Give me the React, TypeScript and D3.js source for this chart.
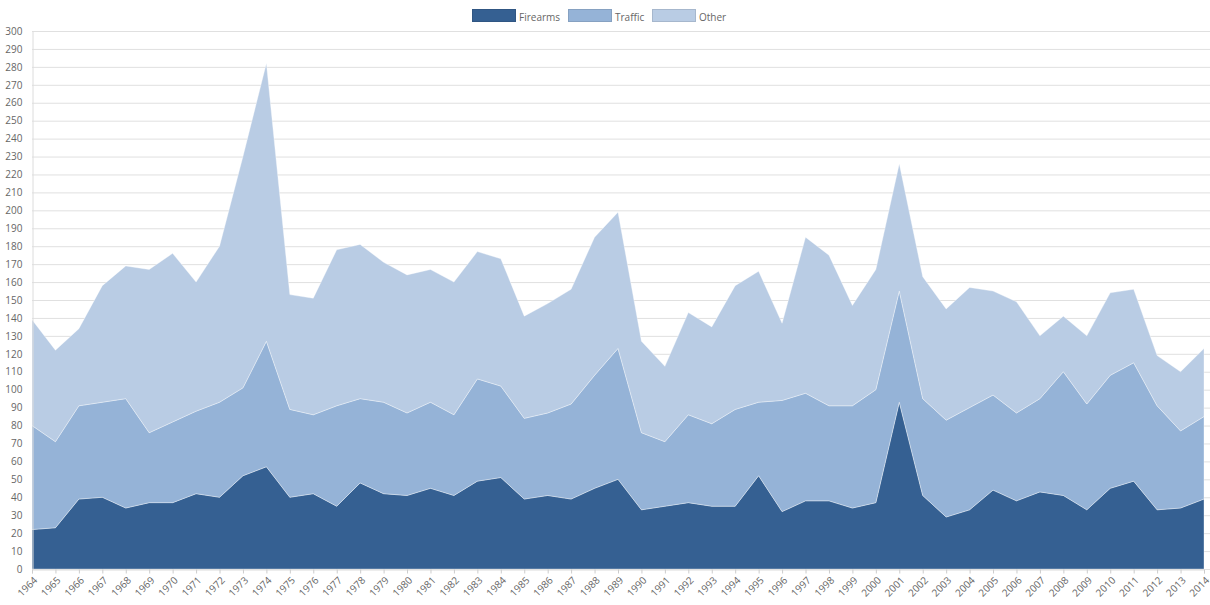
import React, { useEffect, useRef } from 'react';
import * as d3 from 'd3';

const years = d3.range(1964, 2015);

const firearms = [22, 23, 39, 40, 34, 37, 37, 42, 40, 52, 57, 40, 42, 35, 48, 42, 41, 45, 41, 49, 51, 39, 41, 39, 45, 50,
  33, 35, 37, 35, 35, 52, 32, 38, 38, 34, 37, 93, 41, 29, 33, 44, 38, 43, 41, 33, 45, 49, 33, 34, 39];
const traffic = [58, 48, 52, 53, 61, 39, 45, 46, 53, 49, 70, 49, 44, 56, 47, 51, 46, 48, 45, 57, 51, 45, 46, 53, 63, 73,
  43, 36, 49, 46, 54, 41, 62, 60, 53, 57, 63, 62, 54, 54, 57, 53, 49, 52, 69, 59, 63, 66, 58, 43, 46];
const other = [59, 51, 43, 65, 74, 91, 94, 72, 87, 129, 155, 64, 65, 87, 86, 78, 77, 74, 74, 71, 71, 57, 61, 64, 77, 76,
  51, 42, 57, 54, 69, 73, 43, 87, 84, 56, 67, 71, 68, 62, 67, 58, 62, 35, 31, 38, 46, 41, 28, 33, 38];

const seriesNames = ['Firearms', 'Traffic', 'Other'];
const colors = ['#356092', '#95b3d7', '#b9cce4'];
const yTicks = d3.range(0, 301, 10);

function AreaChart() {
  const ref = useRef<SVGSVGElement>(null);

  useEffect(() => {
    if (!ref.current) return;
    const width = 1210;
    const height = 605;
    const margin = { top: 31, right: 6, bottom: 36, left: 32 };

    const svg = d3.select(ref.current);
    svg.selectAll('*').remove();
    svg.attr('width', width).attr('height', height);

    const rows = years.map((y, i) => ({ year: y, Firearms: firearms[i], Traffic: traffic[i], Other: other[i] }));
    const stacked = d3.stack<any>().keys(seriesNames)(rows);

    const x = d3.scaleLinear().domain([1964, 2014]).range([margin.left, width - margin.right]);
    const y = d3.scaleLinear().domain([0, 300]).range([height - margin.bottom, margin.top]);

    // grid
    svg.append('g')
      .selectAll('line')
      .data(yTicks)
      .join('line')
      .attr('x1', margin.left)
      .attr('x2', width)
      .attr('y1', (d) => y(d) + 0.5)
      .attr('y2', (d) => y(d) + 0.5)
      .attr('stroke', '#e0e0e0');

    // areas
    const area = d3.area<any>()
      .x((d) => x(d.data.year))
      .y0((d) => y(d[0]))
      .y1((d) => y(d[1]));

    svg.append('g')
      .selectAll('path')
      .data(stacked)
      .join('path')
      .attr('d', area)
      .attr('fill', (d, i) => colors[i])
      .attr('stroke', '#ffffff')
      .attr('stroke-opacity', 0.35)
      .attr('stroke-width', 1);

    // y axis
    const yAxis = svg.append('g')
      .attr('transform', `translate(${margin.left + 0.5},0)`)
      .call(d3.axisLeft(y).tickValues(yTicks).tickSize(0).tickPadding(10));
    yAxis.select('.domain').attr('stroke', '#dcdcdc');
    yAxis.selectAll('text')
      .style('font-family', '"Open Sans", sans-serif')
      .style('font-size', '10px')
      .attr('fill', '#666');

    // x axis
    const xAxis = svg.append('g')
      .attr('transform', `translate(0,${height - margin.bottom + 0.5})`)
      .call(d3.axisBottom(x).tickValues(years).tickSize(4).tickFormat((d) => String(d)));
    xAxis.select('.domain').attr('stroke', '#dcdcdc');
    xAxis.selectAll('line').attr('stroke', '#ccc');
    xAxis.selectAll('text')
      .style('font-family', '"Open Sans", sans-serif')
      .style('font-size', '10px')
      .attr('fill', '#666')
      .attr('text-anchor', 'end')
      .attr('x', 0)
      .attr('y', 0)
      .attr('dy', '0.35em')
      .attr('transform', 'translate(3,9) rotate(-45)');

    // legend
    const legendX = [472, 568, 652];
    const legend = svg.append('g');
    seriesNames.forEach((name, i) => {
      legend.append('rect')
        .attr('x', legendX[i] + 0.5)
        .attr('y', 9.5)
        .attr('width', 43)
        .attr('height', 12)
        .attr('fill', colors[i])
        .attr('stroke', d3.color(colors[i])!.darker(0.3).formatHex())
        .attr('stroke-width', 1);
      legend.append('text')
        .attr('x', legendX[i] + 47)
        .attr('y', 21)
        .text(name)
        .style('font-family', '"Open Sans", sans-serif')
        .style('font-size', '10px')
        .attr('fill', '#666');
    });
  }, []);

  return <svg ref={ref} style={{ position: 'absolute', left: 0, top: 0 }} />;
}

export default function App() {
  return <AreaChart />;
}
